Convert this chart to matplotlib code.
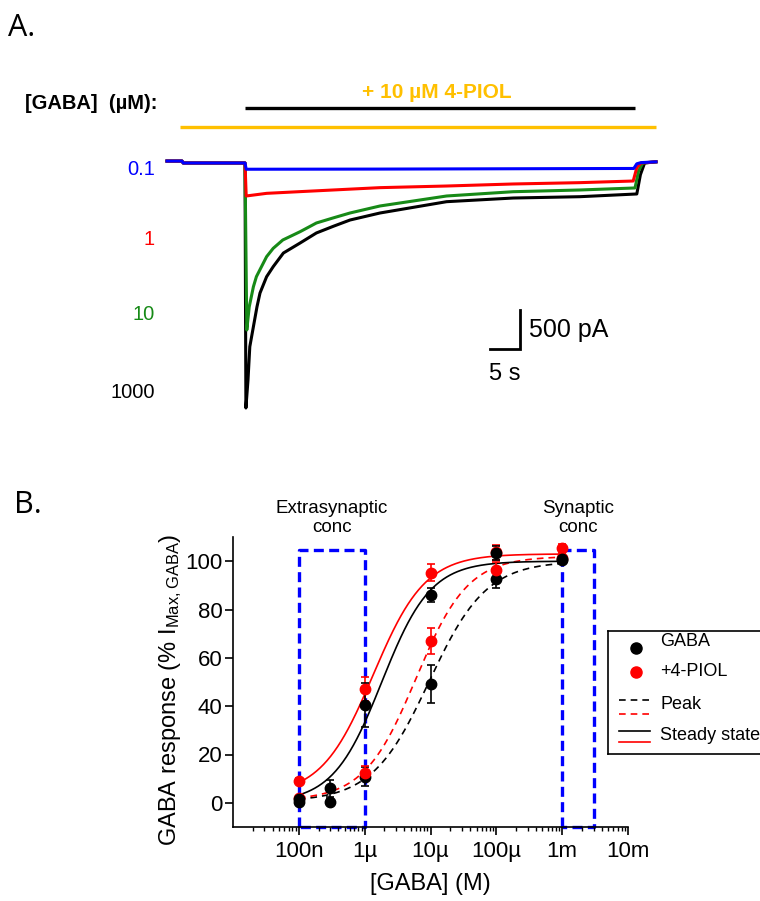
import numpy as np
import matplotlib.pyplot as plt
from matplotlib.ticker import FixedLocator, FixedFormatter, LogLocator, NullFormatter

plt.rcParams['font.family'] = ['Liberation Sans', 'DejaVu Sans']
plt.rcParams['mathtext.default'] = 'regular'

W, H = 760, 901

# ---- A: whole-cell currents, time (s) and current (pA)
t_black = [0, 2.5, 2.7, 13.0, 13.15, 13.5, 13.8, 15.0, 15.5, 16.6, 17.7, 19.4,
           22.2, 24.9, 27.7, 30.5, 35.5, 46.6, 57.7, 68.8, 78.3, 78.9, 79.6, 81.5]
i_black = [25, 25, 0, 0, -3141, -2782, -2355, -1842, -1667, -1458, -1329, -1154,
           -1025, -897, -812, -731, -641, -496, -449, -432, -397, -150, 0, 15]

t_green = [0, 2.5, 2.7, 13.0, 13.3, 13.7, 14.4, 14.9, 16.6, 17.7, 19.3, 22.2,
           24.9, 27.7, 30.5, 35.5, 46.6, 57.7, 68.8, 78.0, 78.6, 79.3, 81.5]
i_green = [25, 25, 0, 0, -2141, -1846, -1586, -1457, -1201, -1094, -987, -880,
           -769, -704, -641, -551, -423, -368, -346, -320, -100, 0, 15]

t_red = [0, 2.5, 2.7, 13.0, 13.2, 16.6, 22.2, 35.5, 46.6, 57.7, 68.8, 77.7,
         78.3, 79.0, 81.5]
i_red = [25, 25, 0, 0, -423, -389, -367, -316, -295, -269, -252, -231,
         -60, 0, 15]

t_blue = [0, 2.5, 2.7, 13.0, 13.2, 35.5, 77.8, 78.3, 79.0, 81.5]
i_blue = [25, 25, 0, 0, -80, -78, -70, -10, 5, 15]

gaba_bar = [13.0, 78.0]   # s
piol_bar = [2.2, 81.5]    # s
trace_labels = ['0.1', '1', '10', '1000']

# ---- B: concentration-response (% of max GABA current)
conc = [1e-7, 3e-7, 1e-6, 1e-5, 1e-4, 1e-3]
gaba_peak = [0.2, 0.5, 10.8, 49.2, 92.5, 100.5]
gaba_peak_err = [1.0, 1.0, 4.0, 7.9, 3.5, 1.0]
gaba_ss = [1.5, 6.0, 40.5, 86.0, 103.3, 100.8]
gaba_ss_err = [1.0, 3.5, 9.0, 2.9, 3.0, 1.5]

conc_piol = [1e-7, 1e-6, 1e-5, 1e-4, 1e-3]
piol_peak = [1.9, 12.4, 67.0, 96.5, 101.5]
piol_peak_err = [1.0, 3.0, 5.5, 3.0, 1.5]
piol_ss = [9.1, 47.0, 95.3, 103.6, 105.4]
piol_ss_err = [1.0, 5.0, 3.6, 3.2, 1.5]

# Hill fits: logEC50, nH, bottom, top
fit_gaba_peak = (-5.02, 1.0, 0.5, 100)
fit_gaba_ss = (-5.74, 1.17, 0, 100)
fit_piol_peak = (-5.22, 1.1, 1, 102)
fit_piol_ss = (-5.87, 1.1, 3, 103)

extra_box = [1e-7, 1e-6]
syn_box = [1e-3, 3e-3]

xticks = [1e-7, 1e-6, 1e-5, 1e-4, 1e-3, 1e-2]
xticklabels = ['100n', '1µ', '10µ', '100µ', '1m', '10m']

BLUE = '#0000ff'
RED = '#ff0000'
GREEN = '#178a17'
GOLD = '#ffc000'


def hill(x, p):
    logec, n, bot, top = p
    return bot + (top - bot) / (1 + 10 ** ((logec - np.log10(x)) * n))


fig = plt.figure(figsize=(W / 100, H / 100), dpi=100)


def px_axes(l, t, r, b):
    return fig.add_axes([l / W, 1 - b / H, (r - l) / W, (b - t) / H])


# ---------------- panel A
axA = px_axes(160, 80, 660, 420)
axA.set_xlim(-7 / 6, 493 / 6)
axA.set_ylim(-257 * 500 / 39, 83 * 500 / 39)
axA.axis('off')

for t, i, c in [(t_black, i_black, 'black'), (t_green, i_green, GREEN),
                (t_red, i_red, RED), (t_blue, i_blue, BLUE)]:
    axA.plot(t, i, color=c, lw=2.2, solid_joinstyle='round')

tr = axA.get_xaxis_transform()
axA.plot(gaba_bar, [0.918, 0.918], transform=tr, color='black', lw=2.4,
         solid_capstyle='butt')
axA.plot(piol_bar, [0.862, 0.862], transform=tr, color=GOLD, lw=2.4,
         solid_capstyle='butt')
axA.text(45.0, 0.962, '+ 10 µM 4-PIOL', transform=tr, color=GOLD,
         fontsize=15, fontweight='bold', ha='center', va='center')

# scale bar 5 s / 500 pA
axA.plot([53.8, 58.8, 58.8], [-2385, -2385, -1885], color='black', lw=2,
         solid_joinstyle='miter')
axA.text(60.3, -2135, '500 pA', fontsize=18, ha='left', va='center')
axA.text(56.3, -2700, '5 s', fontsize=17, ha='center', va='center')

fig.text(25 / W, 1 - 103.5 / H, '[GABA]  (µM):', fontsize=14.5,
         fontweight='bold', ha='left', va='center')
for lab, c, y in zip(trace_labels, [BLUE, RED, GREEN, 'black'],
                     [169.5, 239.5, 314.5, 392.5]):
    fig.text(155 / W, 1 - y / H, lab, color=c, fontsize=14.5, ha='right',
             va='center')

fig.text(8 / W, 1 - 28 / H, 'A.', fontsize=22, family='Open Sans',
         ha='left', va='center')
fig.text(14 / W, 1 - 505 / H, 'B.', fontsize=22, family='Open Sans',
         ha='left', va='center')

# ---------------- panel B
axB = px_axes(233, 537, 628, 827)
axB.set_xscale('log')
axB.set_xlim(1e-8, 1e-2)
axB.set_ylim(-10, 110)
for s in ['top', 'right']:
    axB.spines[s].set_visible(False)
for s in ['left', 'bottom']:
    axB.spines[s].set_linewidth(1.2)

axB.xaxis.set_major_locator(FixedLocator(xticks))
axB.xaxis.set_major_formatter(FixedFormatter(xticklabels))
axB.xaxis.set_minor_locator(LogLocator(base=10, subs=np.arange(2, 10), numticks=20))
axB.xaxis.set_minor_formatter(NullFormatter())
axB.set_yticks(range(0, 101, 20))
axB.tick_params(which='major', length=6, width=1.2, labelsize=16)
axB.tick_params(axis='x', which='major', pad=4)
axB.tick_params(axis='y', which='major', pad=1.5)
axB.tick_params(which='minor', length=3, width=1.0)

for x0, x1 in [extra_box, syn_box]:
    axB.plot([x0, x0, x1, x1, x0], [-10, 104.7, 104.7, -10, -10], color=BLUE,
             lw=2.4, ls=(0, (3, 1.6)), clip_on=False, zorder=1)

xf = np.logspace(-7, -3, 300)
axB.plot(xf, hill(xf, fit_gaba_peak), color='black', lw=1.2, ls=(0, (4, 3)), zorder=2)
axB.plot(xf, hill(xf, fit_piol_peak), color=RED, lw=1.2, ls=(0, (4, 3)), zorder=2)
axB.plot(xf, hill(xf, fit_gaba_ss), color='black', lw=1.2, zorder=2)
axB.plot(xf, hill(xf, fit_piol_ss), color=RED, lw=1.2, zorder=2)

eb = dict(fmt='o', ms=7.5, capsize=3, elinewidth=1.2, capthick=1.2,
          clip_on=False, zorder=3)
axB.errorbar(conc, gaba_peak, yerr=gaba_peak_err, color='black', **eb)
axB.errorbar(conc_piol, piol_peak, yerr=piol_peak_err, color=RED, **eb)
axB.errorbar(conc_piol, piol_ss, yerr=piol_ss_err, color=RED, **eb)
axB.errorbar(conc, gaba_ss, yerr=gaba_ss_err, color='black', **eb)

axB.set_ylabel('GABA response (% I$_{Max,GABA}$)', fontsize=17)
axB.yaxis.set_label_coords(-0.124, 0.472)
axB.set_xlabel('[GABA] (M)', fontsize=17)
axB.xaxis.set_label_coords(0.5, -0.16)

axB.text(np.sqrt(extra_box[0] * extra_box[1]), 110.5, 'Extrasynaptic\nconc',
         fontsize=13.5, ha='center', va='bottom', linespacing=1.15, clip_on=False)
axB.text(np.sqrt(syn_box[0] * syn_box[1]), 110.5, 'Synaptic\nconc',
         fontsize=13.5, ha='center', va='bottom', linespacing=1.15, clip_on=False)

# legend box, partly running off the right edge as in the original
axL = px_axes(608, 631, 800, 754)
axL.set_xlim(608, 800)
axL.set_ylim(754, 631)
axL.set_xticks([])
axL.set_yticks([])
for s in axL.spines.values():
    s.set_linewidth(1.2)
axL.plot([636], [648.3], 'o', color='black', ms=8)
axL.plot([636], [671.7], 'o', color=RED, ms=8)
axL.plot([619, 650], [700, 700], color='black', lw=1.2, ls=(0, (4, 3)))
axL.plot([619, 650], [714, 714], color=RED, lw=1.2, ls=(0, (4, 3)))
axL.plot([619, 650], [730.7, 730.7], color='black', lw=1.2)
axL.plot([619, 650], [742.3, 742.3], color=RED, lw=1.2)
for lab, y in zip(['GABA', '+4-PIOL', 'Peak', 'Steady state'],
                  [642, 671.7, 705, 736]):
    axL.text(660, y, lab, fontsize=13, ha='left', va='center')

fig.savefig('out.png', dpi=100)
